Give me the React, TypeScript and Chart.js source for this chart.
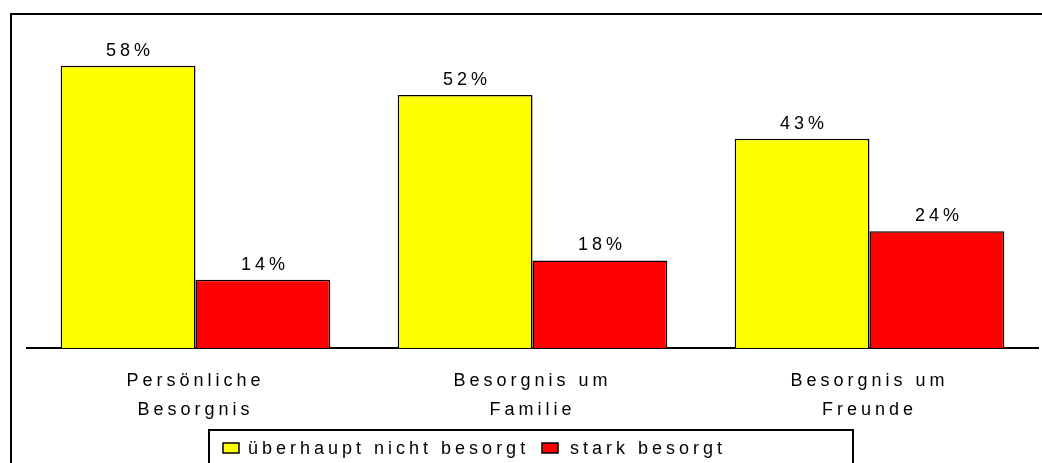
import React, { useEffect, useRef } from "react";
import { Chart, registerables } from "chart.js";

Chart.register(...registerables);

const categories: string[][] = [
  ["Persönliche", "Besorgnis"],
  ["Besorgnis um", "Familie"],
  ["Besorgnis um", "Freunde"],
];
const seriesLabels = ["überhaupt nicht besorgt", "stark besorgt"];
const notWorried = [58, 52, 43];
const veryWorried = [14, 18, 24];

const FONT = '"Liberation Sans", Arial, sans-serif';
const LS = 4;
const FS = 18;

const framePlugin = {
  id: "framePlugin",
  beforeDraw(chart: any) {
    const ctx = chart.ctx;
    (ctx as any).letterSpacing = LS + "px";
    ctx.save();
    ctx.strokeStyle = "#000";
    ctx.lineWidth = 2;
    ctx.beginPath();
    ctx.moveTo(11, 463);
    ctx.lineTo(11, 14);
    ctx.lineTo(1042, 14);
    ctx.stroke();
    ctx.restore();
  },
  afterDraw(chart: any) {
    const ctx = chart.ctx;
    ctx.save();
    (ctx as any).letterSpacing = LS + "px";
    // data labels
    ctx.font = FS + "px " + FONT;
    ctx.fillStyle = "#000";
    ctx.textAlign = "center";
    ctx.textBaseline = "alphabetic";
    chart.data.datasets.forEach((ds: any, di: number) => {
      const meta = chart.getDatasetMeta(di);
      meta.data.forEach((bar: any, i: number) => {
        ctx.fillText(ds.data[i] + "%", bar.x + LS / 2, bar.y - 10);
      });
    });
    // legend box
    const lx = 209, ly = 430, rx = 853;
    ctx.strokeStyle = "#000";
    ctx.lineWidth = 2;
    ctx.beginPath();
    ctx.moveTo(lx, 463);
    ctx.lineTo(lx, ly);
    ctx.lineTo(rx, ly);
    ctx.lineTo(rx, 463);
    ctx.stroke();
    const items = [
      { bx: 223, tx: 248 },
      { bx: 542, tx: 570 },
    ];
    ctx.textAlign = "left";
    chart.data.datasets.forEach((ds: any, di: number) => {
      const it = items[di];
      ctx.fillStyle = ds.backgroundColor;
      ctx.fillRect(it.bx, 443, 16, 10);
      ctx.lineWidth = 1.5;
      ctx.strokeRect(it.bx, 443, 16, 10);
      ctx.fillStyle = "#000";
      ctx.fillText(ds.label, it.tx, 454);
    });
    ctx.restore();
  },
};

export default function App() {
  const ref = useRef<HTMLCanvasElement>(null);
  useEffect(() => {
    if (!ref.current) return;
    const chart = new Chart(ref.current, {
      type: "bar",
      data: {
        labels: categories,
        datasets: [
          {
            label: seriesLabels[0],
            data: notWorried,
            backgroundColor: "#FFFF00",
            borderColor: "#000",
            borderWidth: 1.5,
            barPercentage: 1,
            categoryPercentage: 0.8,
          },
          {
            label: seriesLabels[1],
            data: veryWorried,
            backgroundColor: "#FF0000",
            borderColor: "#000",
            borderWidth: 1.5,
            barPercentage: 1,
            categoryPercentage: 0.8,
          },
        ],
      },
      options: {
        animation: false,
        responsive: false,
        maintainAspectRatio: false,
        layout: { padding: { left: 27, right: 4, top: 56, bottom: 19 } },
        plugins: {
          legend: { display: false },
          tooltip: { enabled: false },
        },
        scales: {
          x: {
            grid: { display: false, drawTicks: false },
            border: { display: true, color: "#000", width: 2 },
            ticks: {
              color: "#000",
              padding: 19,
              maxRotation: 0,
              autoSkip: false,
              font: { family: FONT, size: FS, lineHeight: 29 / FS },
            },
          },
          y: {
            display: false,
            min: 0,
            max: 60,
          },
        },
      },
      plugins: [framePlugin],
    });
    return () => chart.destroy();
  }, []);
  return (
    <div style={{ position: "fixed", left: 0, top: 0, width: 1042, height: 463, background: "#fff" }}>
      <canvas ref={ref} width={1042} height={463} style={{ width: 1042, height: 463, display: "block" }} />
    </div>
  );
}
